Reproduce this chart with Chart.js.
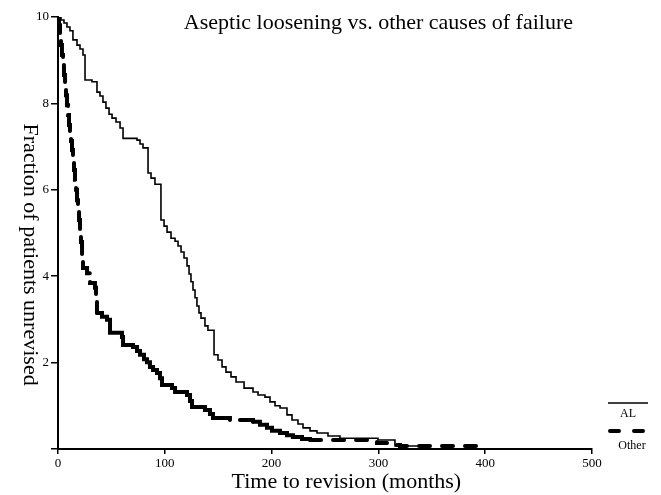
<!DOCTYPE html>
<html>
<head>
<meta charset="utf-8">
<script src="https://cdn.jsdelivr.net/npm/chart.js@4.4.1/dist/chart.umd.min.js"></script>
<style>
  html, body { margin: 0; padding: 0; background: #fff; }
  #wrap { width: 661px; height: 495px; }
</style>
</head>
<body>
<div id="wrap"><canvas id="kmChart"></canvas></div>
<script>
const chartTitle = 'Aseptic loosening vs. other causes of failure';
const xTitle = 'Time to revision (months)';
const yTitle = 'Fraction of patients unrevised';
const seriesNames = ['AL', 'Other'];

const xTicks = [0, 100, 200, 300, 400, 500];
const yTicks = [0, 2, 4, 6, 8, 10];

// aseptic loosening (solid)
const alTime = [0, 2.8, 5.6, 8.4, 11.2, 14, 17.8, 20.6, 23.4, 25.3, 31.8, 36.5, 39.3, 42.1, 44.9, 47.8,
  50.6, 54.3, 58.1, 60.9, 74, 76.8, 79.6, 84.3, 87.1, 90.8, 96.4, 99.3, 102.1, 105.8, 109.6, 112.4,
  115.2, 118, 120.8, 122.7, 124.5, 126.4, 128.3, 130.1, 132, 133.9, 137.6, 140.4, 146.1, 149.8, 153.6,
  157.3, 162, 166.7, 174.2, 182.6, 187.3, 193.8, 198.5, 203.2, 207.9, 214.4, 219.1, 224.7, 229.4, 236,
  242.5, 252.8, 264, 299.6, 315.5, 339];
const alSurv = [10, 9.93, 9.86, 9.77, 9.68, 9.47, 9.35, 9.26, 9.12, 8.54, 8.5, 8.26, 8.17, 8.03, 7.89, 7.75,
  7.66, 7.57, 7.43, 7.19, 7.15, 7.06, 6.97, 6.39, 6.27, 6.13, 5.3, 5.16, 5.02, 4.88, 4.81, 4.7,
  4.56, 4.42, 4.24, 4.05, 3.87, 3.68, 3.5, 3.31, 3.15, 3.03, 2.85, 2.75, 2.18, 2.06, 1.9,
  1.78, 1.67, 1.55, 1.41, 1.32, 1.25, 1.2, 1.09, 1.0, 0.95, 0.79, 0.67, 0.58, 0.49, 0.42,
  0.37, 0.3, 0.25, 0.21, 0.07, 0.07];

// other causes (dashed)
const otherTime = [0, 0.9, 1.9, 2.8, 3.7, 4.7, 5.6, 6.6, 7.5, 8.4, 9.4, 10.3, 11.2, 12.2, 13.1, 14,
  15, 15.9, 16.9, 17.8, 18.7, 19.7, 20.6, 21.5, 22.5, 23.4, 27.2, 30, 34.6, 35.6, 36.5, 41.2, 45.9,
  48.7, 59.9, 60.9, 70.2, 74, 76.8, 80.5, 83.3, 86.1, 89, 92.7, 95.5, 97.4, 106.7, 109.6, 120.8,
  123.6, 125.5, 137.6, 142.3, 145.1, 161, 182.6, 189.1, 195.7, 200.4, 207.9, 214.4, 220, 228.5,
  236, 298.7, 309, 320.2, 398];
const otherSurv = [10, 9.81, 9.58, 9.35, 9.12, 8.89, 8.66, 8.43, 8.19, 7.96, 7.73, 7.5, 7.31, 7.13, 6.92, 6.69,
  6.46, 6.23, 6.0, 5.76, 5.53, 5.3, 5.07, 4.79, 4.49, 4.19, 4.07, 3.84, 3.73, 3.45, 3.15, 3.06, 2.99,
  2.69, 2.59, 2.41, 2.36, 2.27, 2.18, 2.08, 2.01, 1.9, 1.83, 1.76, 1.64, 1.48, 1.41, 1.32, 1.25,
  1.11, 0.97, 0.9, 0.81, 0.72, 0.67, 0.63, 0.56, 0.49, 0.42, 0.37, 0.32, 0.28, 0.23,
  0.21, 0.14, 0.09, 0.07, 0.02];

const serif = '"Liberation Serif", "Times New Roman", serif';

// the dashes of the "Other" line are not regular in the original,
// so pick a pattern per stretch of the curve (by segment start time)
function otherDash(t) {
  if (t < 36) return { dash: [18, 9], offset: 0 };
  if (t >= 155 && t < 165) return { dash: [1000, 10], offset: 1000 };
  if (t < 230) return { dash: [], offset: 0 };
  return { dash: [11, 12], offset: 0 };
}

// title, axis titles and the small legend on the right
const textPlugin = {
  id: 'textPlugin',
  afterDraw(chart) {
    const { ctx, chartArea } = chart;
    const w = chartArea.right - chartArea.left;
    const h = chartArea.bottom - chartArea.top;
    ctx.save();
    ctx.fillStyle = '#000';
    ctx.textAlign = 'center';
    ctx.textBaseline = 'middle';

    ctx.font = '22px ' + serif;
    ctx.fillText(chartTitle, chartArea.left + w * 0.6, chartArea.top + 6);
    ctx.fillText(xTitle, chartArea.left + w * 0.54, chartArea.bottom + 33);

    ctx.save();
    ctx.translate(chartArea.left - 28, chartArea.top + h * 0.55);
    ctx.rotate(Math.PI / 2);
    ctx.fillText(yTitle, 0, 0);
    ctx.restore();

    // legend
    const lx = chartArea.right + 16;
    const lw = 40;
    ctx.strokeStyle = '#000';
    ctx.lineWidth = 1.6;
    ctx.beginPath();
    ctx.moveTo(lx, chartArea.bottom - 46);
    ctx.lineTo(lx + lw, chartArea.bottom - 46);
    ctx.stroke();

    ctx.lineWidth = 4;
    ctx.lineCap = 'round';
    ctx.setLineDash([9, 15]);
    ctx.beginPath();
    ctx.moveTo(lx + 2, chartArea.bottom - 18);
    ctx.lineTo(lx + lw - 2, chartArea.bottom - 18);
    ctx.stroke();
    ctx.setLineDash([]);

    ctx.font = '12px ' + serif;
    ctx.fillText(seriesNames[0], lx + 20, chartArea.bottom - 35);
    ctx.fillText(seriesNames[1], lx + 24, chartArea.bottom - 3);
    ctx.restore();
  }
};

const ctx = document.getElementById('kmChart').getContext('2d');

new Chart(ctx, {
  type: 'line',
  data: {
    datasets: [
      {
        label: seriesNames[0],
        data: alTime.map((t, i) => ({ x: t, y: alSurv[i] })),
        borderColor: '#000',
        borderWidth: 1.6,
        stepped: true,
        pointRadius: 0,
        fill: false,
      },
      {
        label: seriesNames[1],
        data: otherTime.map((t, i) => ({ x: t, y: otherSurv[i] })),
        borderColor: '#000',
        borderWidth: 4,
        borderCapStyle: 'round',
        stepped: true,
        pointRadius: 0,
        fill: false,
        segment: {
          borderDash: (s) => otherDash(s.p0.parsed.x).dash,
          borderDashOffset: (s) => otherDash(s.p0.parsed.x).offset,
        },
      },
    ],
  },
  options: {
    responsive: true,
    maintainAspectRatio: false,
    animation: false,
    layout: { padding: { top: 17, right: 69, left: 0, bottom: 0 } },
    plugins: {
      legend: { display: false },
      tooltip: { enabled: false },
    },
    scales: {
      x: {
        type: 'linear',
        min: 0,
        max: 500,
        afterFit: (scale) => { scale.height = 46; },
        afterBuildTicks: (scale) => { scale.ticks = xTicks.map(v => ({ value: v })); },
        border: { display: true, color: '#000', width: 2 },
        grid: { display: true, drawOnChartArea: false, drawTicks: true, tickLength: 5, color: '#000', lineWidth: 1.5 },
        ticks: { color: '#000', font: { family: serif, size: 13 }, padding: 2, maxRotation: 0 },
      },
      y: {
        min: 0,
        max: 10,
        afterFit: (scale) => { scale.width = 58; },
        afterBuildTicks: (scale) => { scale.ticks = yTicks.map(v => ({ value: v })); },
        border: { display: true, color: '#000', width: 2 },
        grid: { display: true, drawOnChartArea: false, drawTicks: true, tickLength: 7, color: '#000', lineWidth: 1.5 },
        ticks: {
          color: '#000',
          font: { family: serif, size: 13 },
          padding: 2,
          callback: (value) => value === 0 ? '' : value,
        },
      },
    },
  },
  plugins: [textPlugin],
});
</script>
</body>
</html>
